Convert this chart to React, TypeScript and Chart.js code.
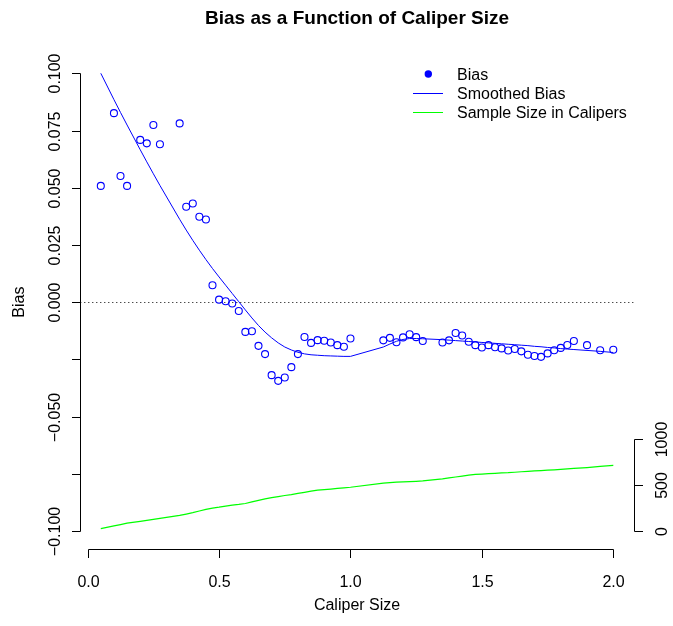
import { useEffect, useRef } from "react";
import { Chart, registerables } from "chart.js";

Chart.register(...registerables);

// Caliper sizes at which bias was estimated
const caliperSize = [
  0.05, 0.1, 0.125, 0.15, 0.2, 0.225, 0.25, 0.275,
  0.35, 0.375, 0.4, 0.425, 0.45, 0.475, 0.5, 0.525, 0.55, 0.575, 0.6, 0.625,
  0.65, 0.675, 0.7, 0.725, 0.75, 0.775, 0.8, 0.825, 0.85, 0.875, 0.9, 0.925,
  0.95, 0.975, 1.0,
  1.125, 1.15, 1.175, 1.2, 1.225, 1.25, 1.275,
  1.35, 1.375, 1.4, 1.425, 1.45, 1.475, 1.5, 1.525, 1.55, 1.575, 1.6, 1.625,
  1.65, 1.675, 1.7, 1.725, 1.75, 1.775, 1.8, 1.825, 1.85,
  1.9, 1.95, 2.0,
];

const bias = [
  0.0508, 0.0826, 0.0551, 0.0508, 0.0709, 0.0694, 0.0774, 0.069,
  0.0781, 0.0417, 0.0431, 0.0373, 0.0361, 0.0074, 0.0011, 0.0004, -0.0006, -0.0039, -0.013, -0.0127,
  -0.0191, -0.0227, -0.0319, -0.0344, -0.0329, -0.0284, -0.0227, -0.0152, -0.0178, -0.0166, -0.0169, -0.0176,
  -0.0188, -0.0195, -0.0159,
  -0.0167, -0.0156, -0.0175, -0.0154, -0.014, -0.0153, -0.017,
  -0.0176, -0.0167, -0.0135, -0.0146, -0.0173, -0.0188, -0.0198, -0.0188, -0.0197, -0.0202, -0.0211, -0.0205,
  -0.0215, -0.023, -0.0235, -0.0239, -0.0224, -0.021, -0.02, -0.0187, -0.017,
  -0.0188, -0.021, -0.0208,
];

const smoothedBias = [
  0.1, 0.0885, 0.0829, 0.0774, 0.0666, 0.0613, 0.0561, 0.051,
  0.0362, 0.0315, 0.027, 0.0227, 0.0186, 0.0147, 0.011, 0.0074, 0.0038, 0.0002, -0.0034, -0.0069,
  -0.0102, -0.0131, -0.0156, -0.0178, -0.0196, -0.0209, -0.0219, -0.0226, -0.023, -0.0232, -0.0234, -0.0235,
  -0.0236, -0.0237, -0.0237,
  -0.0196, -0.0183, -0.0171, -0.0163, -0.0159, -0.0159, -0.016,
  -0.0164, -0.0166, -0.0168, -0.017, -0.0172, -0.0174, -0.0176, -0.0178, -0.018, -0.0182, -0.0184, -0.0186,
  -0.0188, -0.019, -0.0193, -0.0195, -0.0198, -0.02, -0.0203, -0.0205, -0.0207,
  -0.0211, -0.0215, -0.022,
];

// Number of matched pairs within the caliper
const sampleSize = [
  26, 55, 70, 85, 105, 115, 126, 137,
  170, 185, 200, 218, 236, 250, 260, 272, 282, 290, 300, 318,
  335, 350, 365, 376, 388, 398, 410, 422, 435, 447, 452, 458,
  465, 471, 478,
  522, 528, 533, 537, 540, 543, 547,
  570, 580, 590, 600, 610, 618, 622, 627, 630, 634, 637, 642,
  647, 651, 656, 660, 664, 668, 673, 678, 683,
  693, 705, 717,
];

const xTicks = [0, 0.5, 1, 1.5, 2];
const xTickLabels = ["0.0", "0.5", "1.0", "1.5", "2.0"];
const yTicks = [0.1, 0.075, 0.05, 0.025, 0, -0.025, -0.05, -0.075, -0.1];
const yTickLabels = ["0.100", "0.075", "0.050", "0.025", "0.000", "", "\u22120.050", "", "\u22120.100"];
const nTicks = [0, 500, 1000];
const nTickLabels = ["0", "500", "1000"];

const titleText = "Bias as a Function of Caliper Size";
const xTitle = "Caliper Size";
const yTitle = "Bias";
const legendLabels = ["Bias", "Smoothed Bias", "Sample Size in Calipers"];

const BLUE = "#0000ff";
const GREEN = "#00ff00";
const FONT = '"Liberation Sans", Arial, Helvetica, sans-serif';

const W = 673;
const H = 626;

const axesPlugin = {
  id: "baseAxes",
  beforeDatasetsDraw(chart: any) {
    const { ctx, chartArea } = chart;
    const y0 = Math.round(chart.scales.y.getPixelForValue(0)) + 0.5;
    ctx.save();
    ctx.strokeStyle = "#000";
    ctx.lineWidth = 1;
    ctx.setLineDash([1, 3]);
    ctx.beginPath();
    ctx.moveTo(chartArea.left, y0);
    ctx.lineTo(chartArea.right, y0);
    ctx.stroke();
    ctx.restore();
  },
  afterDraw(chart: any) {
    const { ctx, chartArea } = chart;
    const xs = chart.scales.x;
    const ys = chart.scales.y;
    const ns = chart.scales.y2;
    const tick = 8.5;
    ctx.save();
    ctx.strokeStyle = "#000";
    ctx.fillStyle = "#000";
    ctx.lineWidth = 1;

    // bottom axis
    const by = Math.round(chartArea.bottom) + 0.5;
    const bx = xTicks.map((v) => Math.round(xs.getPixelForValue(v)) + 0.5);
    ctx.beginPath();
    ctx.moveTo(bx[0], by);
    ctx.lineTo(bx[bx.length - 1], by);
    bx.forEach((p) => {
      ctx.moveTo(p, by);
      ctx.lineTo(p, by + tick);
    });
    ctx.stroke();
    ctx.font = `16px ${FONT}`;
    ctx.textAlign = "center";
    ctx.textBaseline = "alphabetic";
    bx.forEach((p, i) => ctx.fillText(xTickLabels[i], p, 587));

    // left axis
    const lx = Math.round(chartArea.left) + 0.5;
    const ly = yTicks.map((v) => Math.round(ys.getPixelForValue(v)) + 0.5);
    ctx.beginPath();
    ctx.moveTo(lx, ly[0]);
    ctx.lineTo(lx, ly[ly.length - 1]);
    ly.forEach((p) => {
      ctx.moveTo(lx, p);
      ctx.lineTo(lx - tick, p);
    });
    ctx.stroke();
    ly.forEach((p, i) => {
      if (!yTickLabels[i]) return;
      ctx.save();
      ctx.translate(59.5, p);
      ctx.rotate(-Math.PI / 2);
      ctx.fillText(yTickLabels[i], 0, 0);
      ctx.restore();
    });

    // right axis for sample size
    const rx = Math.round(chartArea.right) + 0.5;
    const ry = nTicks.map((v) => Math.round(ns.getPixelForValue(v)) + 0.5);
    ctx.beginPath();
    ctx.moveTo(rx, ry[0]);
    ctx.lineTo(rx, ry[ry.length - 1]);
    ry.forEach((p) => {
      ctx.moveTo(rx, p);
      ctx.lineTo(rx + tick, p);
    });
    ctx.stroke();
    ry.forEach((p, i) => {
      ctx.save();
      ctx.translate(666.5, p);
      ctx.rotate(-Math.PI / 2);
      ctx.fillText(nTickLabels[i], 0, 0);
      ctx.restore();
    });

    // axis titles
    const cx = (chartArea.left + chartArea.right) / 2;
    const cy = (chartArea.top + chartArea.bottom) / 2;
    ctx.fillText(xTitle, cx, 609.5);
    ctx.save();
    ctx.translate(23.5, cy);
    ctx.rotate(-Math.PI / 2);
    ctx.fillText(yTitle, 0, 0);
    ctx.restore();

    // main title
    ctx.font = `bold 19px ${FONT}`;
    ctx.fillText(titleText, cx, 24);

    // legend
    ctx.font = `16px ${FONT}`;
    ctx.textAlign = "left";
    const tx = 457;
    const rows = [74, 93.3, 112];
    ctx.fillStyle = BLUE;
    ctx.beginPath();
    ctx.arc(428.3, rows[0], 3.7, 0, Math.PI * 2);
    ctx.fill();
    ctx.strokeStyle = BLUE;
    ctx.beginPath();
    ctx.moveTo(413, Math.round(rows[1]) + 0.5);
    ctx.lineTo(443, Math.round(rows[1]) + 0.5);
    ctx.stroke();
    ctx.strokeStyle = GREEN;
    ctx.beginPath();
    ctx.moveTo(413, Math.round(rows[2]) + 0.5);
    ctx.lineTo(443, Math.round(rows[2]) + 0.5);
    ctx.stroke();
    ctx.fillStyle = "#000";
    legendLabels.forEach((t, i) => ctx.fillText(t, tx, rows[i] + 5.5));

    ctx.restore();
  },
};

export default function App() {
  const canvasRef = useRef<HTMLCanvasElement | null>(null);

  useEffect(() => {
    const canvas = canvasRef.current;
    if (!canvas) return;
    const points = (ys: number[]) => caliperSize.map((x, i) => ({ x, y: ys[i] }));
    const chart = new Chart(canvas, {
      type: "scatter",
      data: {
        datasets: [
          {
            label: legendLabels[0],
            data: points(bias),
            showLine: false,
            pointStyle: "circle",
            pointRadius: 3.5,
            pointBorderWidth: 1.1,
            pointBorderColor: BLUE,
            pointBackgroundColor: "rgba(0,0,0,0)",
            yAxisID: "y",
          },
          {
            label: legendLabels[1],
            data: points(smoothedBias),
            showLine: true,
            borderColor: BLUE,
            borderWidth: 1,
            pointRadius: 0,
            tension: 0,
            yAxisID: "y",
          },
          {
            label: legendLabels[2],
            data: points(sampleSize),
            showLine: true,
            borderColor: GREEN,
            borderWidth: 1.2,
            pointRadius: 0,
            tension: 0,
            yAxisID: "y2",
          },
        ],
      },
      options: {
        responsive: false,
        animation: false,
        events: [],
        layout: { padding: { left: 80.3, right: W - 633.8, top: 55, bottom: H - 549.3 } },
        plugins: { legend: { display: false }, title: { display: false }, tooltip: { enabled: false } },
        scales: {
          x: { type: "linear", min: -0.028, max: 2.078, display: false },
          y: { type: "linear", min: -0.108, max: 0.108, display: false },
          y2: { type: "linear", min: -200, max: 5200, display: false },
        },
      },
      plugins: [axesPlugin],
    });
    return () => chart.destroy();
  }, []);

  return (
    <div style={{ position: "absolute", left: 0, top: 0, width: W, height: H, background: "#fff" }}>
      <canvas ref={canvasRef} width={W} height={H} style={{ display: "block" }} />
    </div>
  );
}
